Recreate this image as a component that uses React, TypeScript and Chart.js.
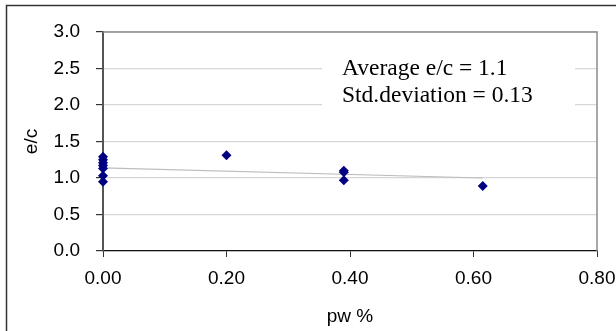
import React, { useEffect, useRef } from "react";
import { Chart, registerables } from "chart.js";

Chart.register(...registerables);

const pwPercent = [0, 0, 0, 0, 0, 0, 0, 0.2, 0.39, 0.39, 0.39, 0.615];
const ecRatio = [1.29, 1.25, 1.21, 1.17, 1.13, 1.03, 0.95, 1.31, 1.1, 1.08, 0.97, 0.89];
const trendX = [0, 0.615];
const trendY = [1.14, 1.0];
const annotationLines = ["Average e/c = 1.1", "Std.deviation = 0.13"];
const xTitle = "pw %";
const yTitle = "e/c";

const framePlugin = {
  id: "frameAndNote",
  beforeDatasetsDraw(chart: any) {
    const { ctx } = chart;
    ctx.save();
    ctx.fillStyle = "#ffffff";
    ctx.fillRect(322, 52, 253, 66);
    ctx.restore();
  },
  afterDraw(chart: any) {
    const { ctx, chartArea } = chart;
    ctx.save();
    ctx.strokeStyle = "#8c8c8c";
    ctx.lineWidth = 1.5;
    ctx.beginPath();
    ctx.moveTo(chartArea.left, chartArea.top);
    ctx.lineTo(chartArea.right, chartArea.top);
    ctx.lineTo(chartArea.right, chartArea.bottom);
    ctx.stroke();
    ctx.strokeStyle = "#333333";
    ctx.lineWidth = 1.5;
    ctx.strokeRect(6.5, 5.5, 800, 800);
    ctx.fillStyle = "#000000";
    ctx.font = "23.5px 'Liberation Serif', 'Times New Roman', serif";
    ctx.textAlign = "left";
    ctx.textBaseline = "alphabetic";
    ctx.fillText(annotationLines[0], 342, 75);
    ctx.fillText(annotationLines[1], 342, 102);
    ctx.restore();
  },
};

export default function App() {
  const ref = useRef<HTMLCanvasElement | null>(null);
  useEffect(() => {
    if (!ref.current) return;
    const font = { family: "'Liberation Sans', Arial, sans-serif", size: 19 };
    const chart = new Chart(ref.current, {
      type: "scatter",
      data: {
        datasets: [
          {
            type: "line",
            data: trendX.map((x, i) => ({ x, y: trendY[i] })),
            borderColor: "#bdbdbd",
            borderWidth: 1.2,
            pointRadius: 0,
            fill: false,
            order: 2,
          },
          {
            data: pwPercent.map((x, i) => ({ x, y: ecRatio[i] })),
            backgroundColor: "#000080",
            borderColor: "#000080",
            pointStyle: "rectRot",
            pointRadius: 5,
            borderWidth: 0,
            clip: false,
            order: 1,
          },
        ],
      },
      options: {
        responsive: false,
        animation: false,
        events: [],
        layout: { padding: { left: 0, right: 10, top: 32, bottom: 0 } },
        plugins: { legend: { display: false }, tooltip: { enabled: false } },
        scales: {
          x: {
            type: "linear",
            min: 0,
            max: 0.8,
            afterFit: (s: any) => {
              s.height = 80;
              s.paddingRight = 19;
            },
            ticks: {
              stepSize: 0.2,
              font,
              color: "#000",
              padding: 10,
              maxRotation: 0,
              callback: (v: any) => Number(v).toFixed(2),
            },
            grid: {
              drawOnChartArea: false,
              drawTicks: true,
              tickLength: 6,
              tickColor: "#333",
            },
            border: { color: "#111", width: 1.2 },
            title: {
              display: true,
              text: xTitle,
              font,
              color: "#000",
              padding: { top: 0, bottom: 3 },
            },
          },
          y: {
            min: 0,
            max: 3,
            afterFit: (s: any) => {
              s.width = 103;
            },
            ticks: {
              stepSize: 0.5,
              font,
              color: "#000",
              padding: 16,
              callback: (v: any) => Number(v).toFixed(1),
            },
            grid: {
              color: "#d6d6d6",
              lineWidth: 1.2,
              tickLength: 7,
              tickColor: "#333",
            },
            border: { color: "#555", width: 2 },
            title: {
              display: true,
              text: yTitle,
              font,
              color: "#000",
              padding: { top: 20, bottom: 0 },
            },
          },
        },
      },
      plugins: [framePlugin],
    } as any);
    return () => chart.destroy();
  }, []);
  return (
    <div style={{ position: "absolute", left: 0, top: 0, width: 616, height: 331, background: "#fff" }}>
      <canvas ref={ref} width={616} height={331} />
    </div>
  );
}
